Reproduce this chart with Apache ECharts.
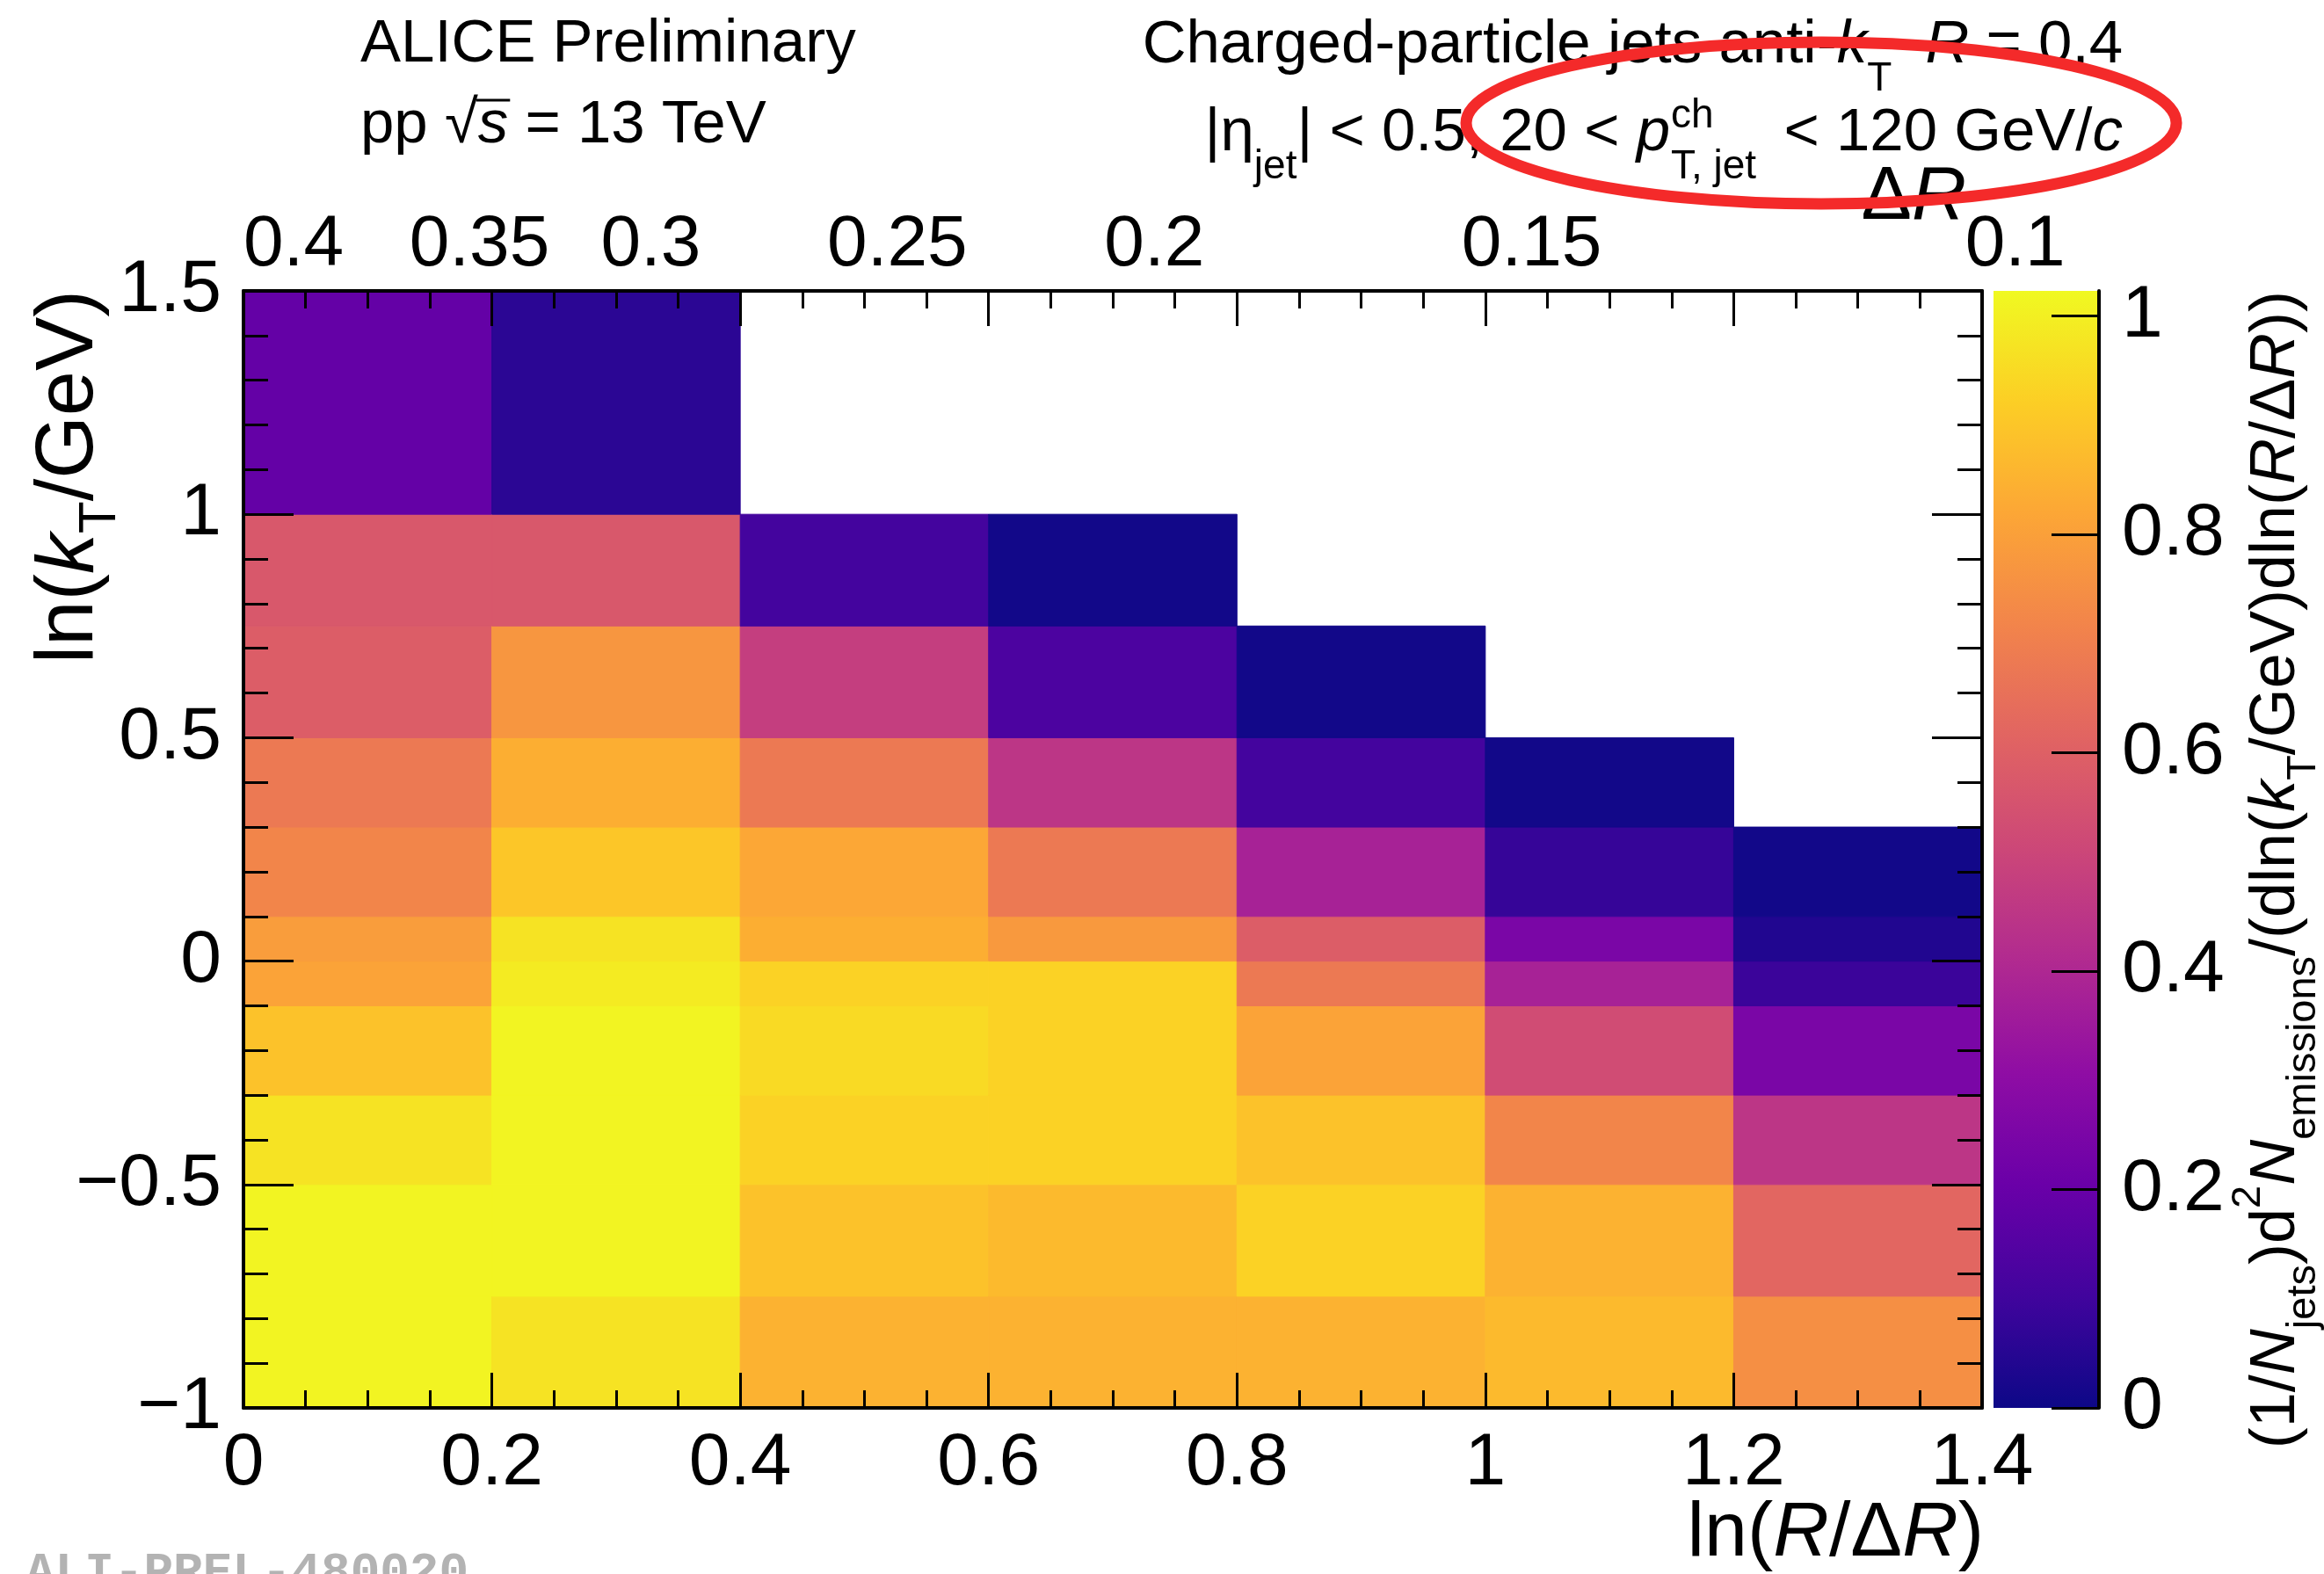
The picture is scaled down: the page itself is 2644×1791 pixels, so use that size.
<!DOCTYPE html>
<html><head><meta charset="utf-8">
<script src="https://cdn.jsdelivr.net/npm/echarts@6/dist/echarts.min.js"></script>
<style>html,body{margin:0;padding:0;background:#fff}#c{width:2644px;height:1791px}</style>
</head><body><div id="c"></div>
<script>
// ---- data ----
const xEdges = [0, 0.2, 0.4, 0.6, 0.8, 1.0, 1.2, 1.4];              // ln(R/ΔR) bin edges
const yEdges = [-1, -0.75, -0.5, -0.3, -0.1, 0, 0.1, 0.3, 0.5, 0.75, 1.0, 1.5]; // ln(kT/GeV) bin edges
// one array per ln(R/ΔR) column, rows from bottom (ln kT = -1) to top; null = empty bin
const col0 = [1.01, 1.01, 0.97, 0.89, 0.81, 0.79, 0.72, 0.68, 0.59, 0.57, 0.19];
const col1 = [0.97, 1.01, 1.01, 1.01, 0.99, 0.97, 0.90, 0.84, 0.77, 0.57, 0.06];
const col2 = [0.85, 0.89, 0.93, 0.95, 0.93, 0.84, 0.82, 0.68, 0.48, 0.11, null];
const col3 = [0.85, 0.87, 0.93, 0.93, 0.93, 0.78, 0.68, 0.45, 0.13, 0.01, null];
const col4 = [0.85, 0.93, 0.89, 0.81, 0.68, 0.59, 0.38, 0.11, 0.01, null, null];
const col5 = [0.87, 0.85, 0.72, 0.53, 0.38, 0.25, 0.08, 0.01, null, null, null];
const col6 = [0.75, 0.62, 0.45, 0.25, 0.09, 0.04, 0.01, null, null, null, null];
const columns = [col0, col1, col2, col3, col4, col5, col6];
const dRTicks = [0.4, 0.35, 0.3, 0.25, 0.2, 0.15, 0.1];   // top axis labels (ΔR)
const jetR = 0.4;
const zMin = 0, zMax = 1.023;
const zTicks = [0, 0.2, 0.4, 0.6, 0.8, 1];
const plasma = ['#0d0887','#41049d','#6a00a8','#8f0da4','#b12a90','#cc4778','#e16462','#f2844b','#fca636','#fcce25','#f0f921'];

// ---- build ----
const cells = [];
columns.forEach((col, c) => col.forEach((v, r) => {
  if (v !== null) cells.push([xEdges[c], xEdges[c + 1], yEdges[r], yEdges[r + 1], v]);
}));

const F = "'Liberation Sans', Arial, sans-serif";
const st = (size, extra) => Object.assign({ fontSize: size, fontFamily: F, fill: '#000' }, extra || {});
function rt(x, y, text, F0, f0, L, align, rotation) {
  return {
    type: 'text', x: x, y: y, rotation: rotation || 0, silent: true, z: 50,
    style: st(F0, {
      text: text, align: align || 'left', verticalAlign: 'middle', lineHeight: L,
      rich: {
        i: st(F0, { fontStyle: 'italic', lineHeight: L }),
        sub: st(f0, { verticalAlign: 'bottom', lineHeight: f0 }),
        sup: st(f0, { verticalAlign: 'top', lineHeight: f0 })
      }
    })
  };
}
const ctx = document.createElement('canvas').getContext('2d');
function tw(t, size, style) { ctx.font = (style || '') + ' ' + size + 'px ' + F; return ctx.measureText(t).width; }
const ppX = 410 + tw('pp ', 69);
const sqrtW = tw('√', 69);
const sW = tw('s', 69, 'italic');

const axisTickStyle = { color: '#000', width: 3 };
const labelStyle = { fontSize: 84, fontFamily: F, color: '#000' };

const chart = echarts.init(document.getElementById('c'), null, { renderer: 'canvas' });
chart.setOption({
  animation: false,
  backgroundColor: '#fff',
  grid: [
    { left: 277, top: 331, width: 1978, height: 1271 },
    { left: 2268, top: 331, width: 120, height: 1271 }
  ],
  visualMap: {
    type: 'continuous', show: false, min: zMin, max: zMax, dimension: 4, seriesIndex: 0,
    inRange: { color: plasma }
  },
  xAxis: [
    { gridIndex: 0, type: 'value', min: 0, max: 1.4, interval: 0.2, position: 'bottom', z: 10,
      axisLine: { show: true, onZero: false, lineStyle: { color: '#000', width: 4 } },
      axisTick: { show: true, inside: true, length: 40, lineStyle: axisTickStyle },
      minorTick: { show: true, splitNumber: 4, length: 20, lineStyle: axisTickStyle },
      splitLine: { show: false }, minorSplitLine: { show: false },
      axisLabel: Object.assign({ margin: 22 }, labelStyle) },
    { gridIndex: 0, type: 'value', min: 0, max: 1.4, interval: 0.2, position: 'top', z: 10,
      axisLine: { show: true, onZero: false, lineStyle: { color: '#000', width: 4 } },
      axisTick: { show: true, inside: true, length: 40, lineStyle: axisTickStyle },
      minorTick: { show: true, splitNumber: 4, length: 20, lineStyle: axisTickStyle },
      splitLine: { show: false }, axisLabel: { show: false } },
    { gridIndex: 1, type: 'value', min: 0, max: 1, show: false }
  ],
  yAxis: [
    { gridIndex: 0, type: 'value', min: -1, max: 1.5, interval: 0.5, position: 'left', z: 10,
      axisLine: { show: true, onZero: false, lineStyle: { color: '#000', width: 4 } },
      axisTick: { show: true, inside: true, length: 57, lineStyle: axisTickStyle },
      minorTick: { show: true, splitNumber: 5, length: 28, lineStyle: axisTickStyle },
      splitLine: { show: false },
      axisLabel: Object.assign({ margin: 25, formatter: v => (v < 0 ? '\u2212' + Math.abs(v) : String(v)) }, labelStyle) },
    { gridIndex: 0, type: 'value', min: -1, max: 1.5, interval: 0.5, position: 'right', z: 10,
      axisLine: { show: true, onZero: false, lineStyle: { color: '#000', width: 4 } },
      axisTick: { show: true, inside: true, length: 57, lineStyle: axisTickStyle },
      minorTick: { show: true, splitNumber: 5, length: 28, lineStyle: axisTickStyle },
      splitLine: { show: false }, axisLabel: { show: false } },
    { gridIndex: 1, type: 'value', min: zMin, max: zMax, position: 'right', z: 10,
      axisLine: { show: true, onZero: false, lineStyle: { color: '#000', width: 4 } },
      axisTick: { show: true, inside: true, length: 54, lineStyle: axisTickStyle, customValues: zTicks },
      minorTick: { show: false }, splitLine: { show: false },
      axisLabel: Object.assign({ margin: 26, customValues: zTicks }, labelStyle) }
  ],
  series: [
    { type: 'custom', xAxisIndex: 0, yAxisIndex: 0, data: cells, encode: { x: [0, 1], y: [2, 3] }, silent: true,
      renderItem: function (params, api) {
        const p0 = api.coord([api.value(0), api.value(2)]);
        const p1 = api.coord([api.value(1), api.value(3)]);
        const c = api.visual('color');
        return { type: 'rect', shape: { x: p0[0], y: p1[1], width: p1[0] - p0[0], height: p0[1] - p1[1] },
                 style: { fill: c, stroke: c, lineWidth: 1 } };
      } },
    { type: 'custom', xAxisIndex: 1, yAxisIndex: 0, clip: false, silent: true, z: 20,
      data: dRTicks.map(d => [Math.log(jetR / d), 1.5, d]), encode: { x: 0, y: 1 },
      renderItem: function (params, api) {
        const p = api.coord([api.value(0), api.value(1)]);
        return { type: 'text', x: p[0], y: p[1] - 52,
                 style: { text: String(api.value(2)), fontSize: 82, fontFamily: F, fill: '#000', align: 'left', verticalAlign: 'middle' } };
      } },
    { type: 'custom', xAxisIndex: 2, yAxisIndex: 2, silent: true,
      data: [[0, zMin, 1, zMax]], encode: { x: [0, 2], y: [1, 3] },
      renderItem: function (params, api) {
        const p0 = api.coord([api.value(0), api.value(1)]);
        const p1 = api.coord([api.value(2), api.value(3)]);
        return { type: 'rect', shape: { x: p0[0], y: p1[1], width: p1[0] - p0[0], height: p0[1] - p1[1] },
                 style: { fill: new echarts.graphic.LinearGradient(0, 1, 0, 0,
                   plasma.map((c, i) => ({ offset: i / (plasma.length - 1), color: c }))) } };
      } }
  ],
  graphic: [
    rt(410, 51, 'ALICE Preliminary', 69, 46, 80),
    rt(410, 143, 'pp √{i|s} = 13 TeV', 69, 46, 80),
    { type: 'line', silent: true, z: 50, shape: { x1: ppX + sqrtW - 2, y1: 114, x2: ppX + sqrtW + sW + 2, y2: 114 }, style: { stroke: '#000', lineWidth: 3 } },
    rt(2415, 52, 'Charged-particle jets anti-{i|k}{sub|T}  {i|R} = 0.4', 69, 46, 122, 'right'),
    rt(1900, 152, '|η{sub|jet}| < 0.5, 20 < {i|p}', 69, 46, 122, 'right'),
    rt(1901, 132, 'ch', 46, 30, 46),
    rt(1901, 190, 'T, jet', 46, 30, 46),
    rt(2415, 152, '< 120 GeV/{i|c}', 69, 46, 122, 'right'),
    rt(2237, 225, 'Δ{i|R}', 86, 57, 94, 'right'),
    rt(2257, 1746, 'ln({i|R}/Δ{i|R})', 88, 58, 94, 'right'),
    rt(80, 330, 'ln({i|k}{sub|T}/GeV)', 92, 60, 128, 'right', Math.PI / 2),
    rt(2590, 331, '(1/{i|N}{sub|jets})d{sup|2}{i|N}{sub|emissions}/(dln({i|k}{sub|T}/GeV)dln({i|R}/Δ{i|R}))', 72, 47, 110, 'right', Math.PI / 2),
    { type: 'text', x: 29, y: 1791, silent: true, z: 50,
      style: { text: 'ALI-PREL-480020', fontSize: 56, fontFamily: "'Liberation Mono', monospace", fontWeight: 'bold', fill: '#b3b3b3', align: 'left', verticalAlign: 'middle' } },
    { type: 'ellipse', silent: true, z: 100, shape: { cx: 2072, cy: 140, rx: 404, ry: 92 },
      style: { fill: 'rgba(0,0,0,0)', stroke: '#f42a2a', lineWidth: 13 } }
  ]
});
</script></body></html>
